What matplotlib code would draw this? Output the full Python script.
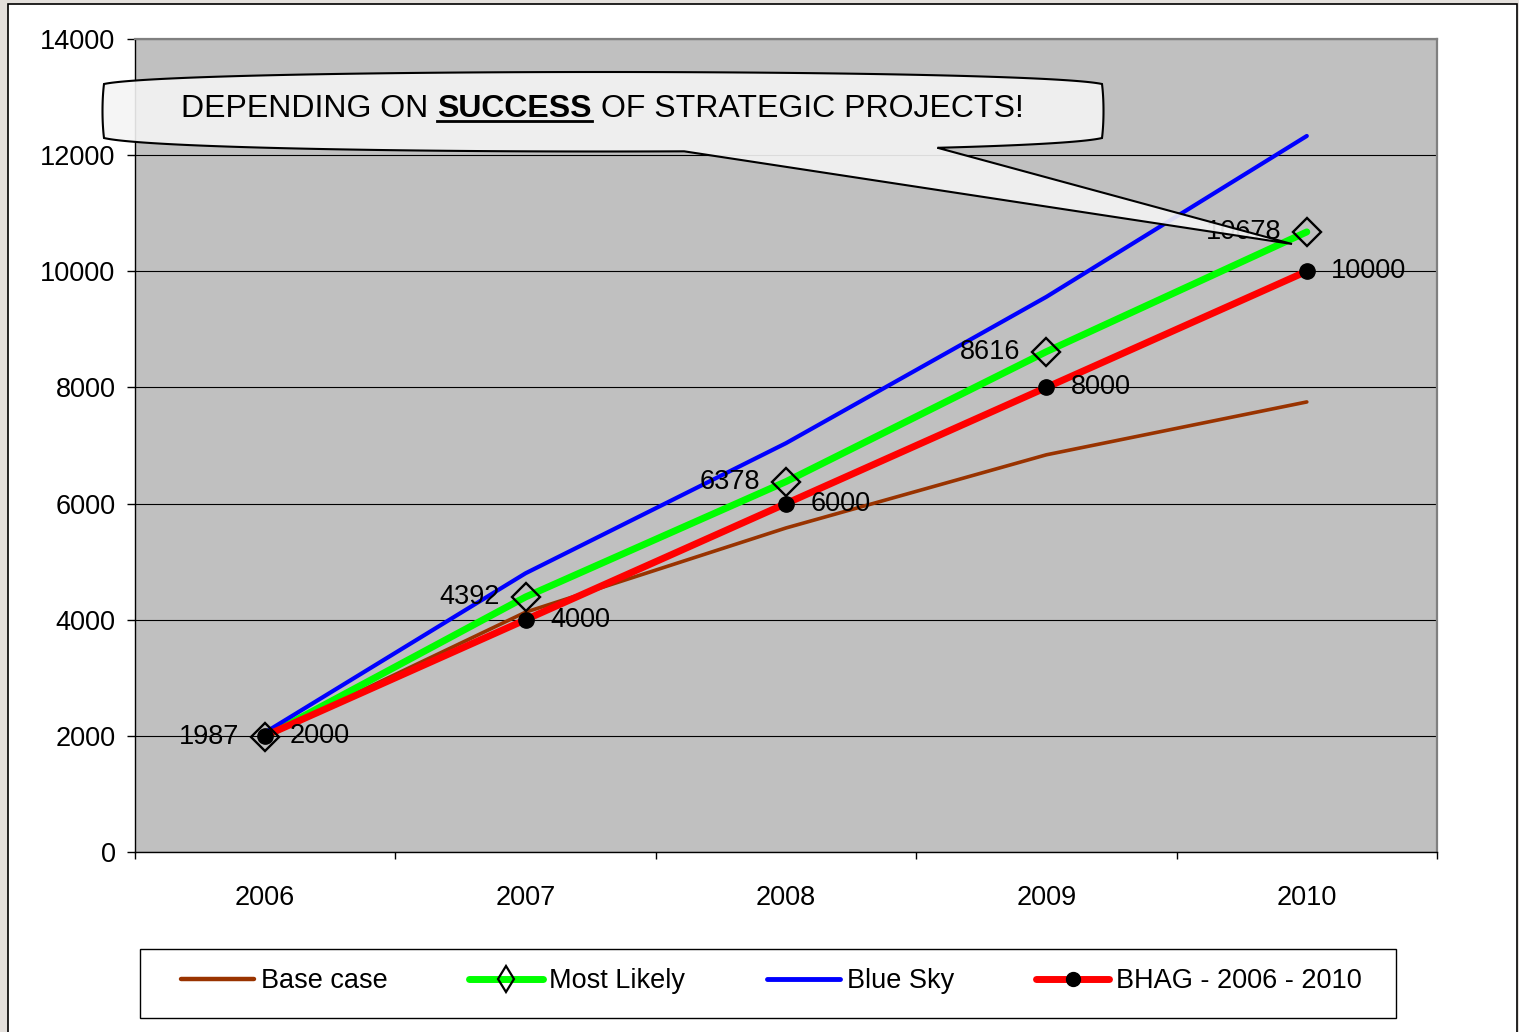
import numpy as np
import matplotlib
matplotlib.use("Agg")
import matplotlib.pyplot as plt
from matplotlib.patches import Polygon, Rectangle
from matplotlib.lines import Line2D

# ---------------- data ----------------
years = ["2006", "2007", "2008", "2009", "2010"]
base_case = [1987, 4130, 5580, 6840, 7750]
most_likely = [1987, 4392, 6378, 8616, 10678]
blue_sky = [2060, 4800, 7040, 9560, 12330]
bhag = [2000, 4000, 6000, 8000, 10000]
y_ticks = [0, 2000, 4000, 6000, 8000, 10000, 12000, 14000]
series_names = ["Base case", "Most Likely", "Blue Sky", "BHAG - 2006 - 2010"]
callout_parts = ["DEPENDING ON", "SUCCESS", "OF STRATEGIC PROJECTS!"]

W, H = 1519, 1032
plt.rcParams['font.family'] = ['Liberation Sans', 'DejaVu Sans']

fig = plt.figure(figsize=(W / 100, H / 100), dpi=100, facecolor='#e4e0dc')


def fx(x):
    return x / W


def fy(y):
    return 1 - y / H


# white slide panel with border
fig.add_artist(Rectangle((fx(8), fy(1045)), fx(1517) - fx(8), fy(4) - fy(1045),
                         transform=fig.transFigure, facecolor='white',
                         edgecolor='black', lw=1.2, zorder=-5))

ax = fig.add_axes([fx(135), fy(852), fx(1437) - fx(135), fy(39) - fy(852)])
ax.set_facecolor('#c0c0c0')
x = np.arange(len(years))

ax.plot(x, base_case, color='#993300', lw=2.6, zorder=3, solid_capstyle='round')
ax.plot(x, most_likely, color='#00ff00', lw=5, zorder=4, solid_capstyle='round')
ax.plot(x, blue_sky, color='#0000ff', lw=3, zorder=5, solid_capstyle='round')
ax.plot(x, bhag, color='#ff0000', lw=5, zorder=6, solid_capstyle='round')
ax.plot(x, bhag, ls='none', marker='o', ms=11, mfc='black', mec='black', zorder=7)
ax.plot(x, most_likely, ls='none', marker='D', ms=14.5, mfc='none', mec='black', mew=1.7, zorder=8)

for i, v in enumerate(most_likely):
    ax.annotate(str(v), (i, v), xytext=(-18.5, 0), textcoords='offset points',
                ha='right', va='center', fontsize=19.5, zorder=9)
for i, v in enumerate(bhag):
    ax.annotate(str(v), (i, v), xytext=(17.5, 0), textcoords='offset points',
                ha='left', va='center', fontsize=19.5, zorder=9)

ax.set_xlim(-0.5, len(years) - 0.5)
ax.set_ylim(0, 14000)
ax.set_yticks(y_ticks)
ax.set_yticklabels([str(t) for t in y_ticks])
ax.yaxis.grid(True, color='black', lw=0.8)
ax.set_xticks(x)
ax.set_xticklabels(years)
ax.set_xticks(np.arange(-0.5, len(years), 1), minor=True)
ax.tick_params(axis='x', which='major', length=0, pad=24, labelsize=19.5)
ax.tick_params(axis='x', which='minor', length=5, direction='out', color='black', width=1)
ax.tick_params(axis='y', length=6, width=1, pad=8, labelsize=19.5)
for s in ['top', 'right']:
    ax.spines[s].set_color('#808080')
    ax.spines[s].set_linewidth(1.6)
for s in ['left', 'bottom']:
    ax.spines[s].set_color('black')
    ax.spines[s].set_linewidth(1.0)

# legend (frame drawn separately)
fig.add_artist(Rectangle((fx(140), fy(1018)), fx(1396) - fx(140), fy(949) - fy(1018),
                         transform=fig.transFigure, facecolor='white',
                         edgecolor='black', lw=1.0, zorder=1))
handles = [
    Line2D([], [], color='#993300', lw=3.2, solid_capstyle='round'),
    Line2D([], [], color='#00ff00', lw=5, marker='d', ms=13, mfc='none', mec='black', mew=1.6,
           solid_capstyle='round'),
    Line2D([], [], color='#0000ff', lw=3.5, solid_capstyle='round'),
    Line2D([], [], color='#ff0000', lw=5, marker='o', ms=10, mfc='black', mec='black',
           solid_capstyle='round'),
]
leg = fig.legend(handles, series_names, loc='center left', bbox_to_anchor=(fx(181), fy(981)),
                 ncol=4, frameon=False, fontsize=19.5,
                 handlelength=2.7, handletextpad=0.25, columnspacing=3.02, borderpad=0,
                 borderaxespad=0)
leg.set_zorder(2)


# ---------------- callout ----------------
def cubic(p0, p1, p2, p3, n=200):
    t = np.linspace(0, 1, n)[:, None]
    p0, p1, p2, p3 = map(np.array, (p0, p1, p2, p3))
    return ((1 - t) ** 3) * p0 + 3 * ((1 - t) ** 2) * t * p1 + 3 * (1 - t) * t ** 2 * p2 + t ** 3 * p3


top = cubic((104, 84), (180, 68), (1026, 68), (1102, 84))
right = cubic((1102, 84), (1104, 100), (1104, 122), (1102, 138))
bottom = cubic((1102, 138), (1026, 156), (180, 156), (104, 138), n=400)
left = cubic((104, 138), (102, 122), (102, 100), (104, 84))
tip = np.array([[1292, 244]])
b1 = bottom[bottom[:, 0] >= 935]
b2 = bottom[bottom[:, 0] <= 686]
outline = np.vstack([top, right, b1, tip, b2, left])
pts = np.column_stack([fx(outline[:, 0]), fy(outline[:, 1])])
fig.add_artist(Polygon(pts, closed=True, transform=fig.transFigure, facecolor='#f4f4f4',
                       alpha=0.9, edgecolor='none', zorder=10))
fig.add_artist(Polygon(pts, closed=True, transform=fig.transFigure, facecolor='none',
                       edgecolor='black', lw=1.5, zorder=11, joinstyle='miter'))

fs = 23
space_px = 0.278 * fs * 100 / 72
renderer = fig.canvas.get_renderer()
xpos = 181
base_y = 117
for k, part in enumerate(callout_parts):
    weight = 'bold' if k == 1 else 'normal'
    t = fig.text(fx(xpos), fy(base_y), part, fontsize=fs, fontweight=weight,
                 va='baseline', ha='left', zorder=12)
    bb = t.get_window_extent(renderer)
    if k == 1:
        fig.add_artist(Line2D([bb.x0 / W, bb.x1 / W], [fy(base_y + 4)] * 2,
                              transform=fig.transFigure, color='black', lw=2, zorder=12))
    xpos = bb.x1 + space_px

fig.savefig('out.png', dpi=100, facecolor=fig.get_facecolor())
